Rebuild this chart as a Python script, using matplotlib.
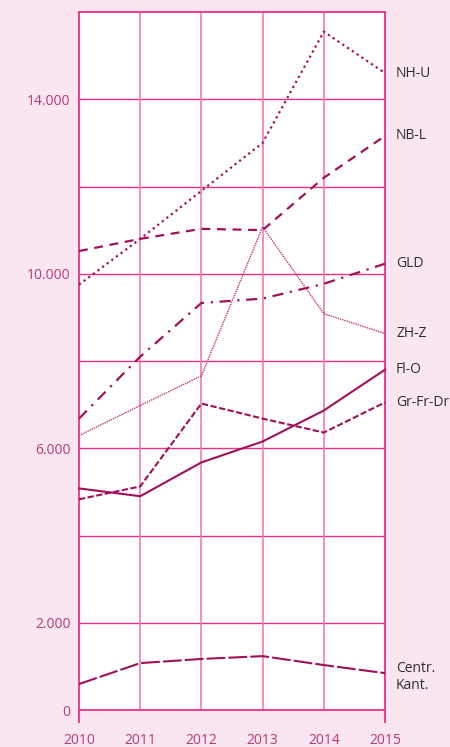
import matplotlib
matplotlib.use("Agg")
import matplotlib.pyplot as plt
from matplotlib.ticker import FuncFormatter

years = [2010, 2011, 2012, 2013, 2014, 2015]
series_names = ["NH-U", "NB-L", "GLD", "ZH-Z", "Fl-O", "Gr-Fr-Dr", "Centr.\nKant."]
nh_u = [9750, 10800, 11900, 13000, 15550, 14600]
nb_l = [10520, 10800, 11030, 11000, 12200, 13160]
gld = [6680, 8100, 9330, 9430, 9770, 10230]
zh_z = [6290, 6980, 7660, 11075, 9085, 8630]
fl_o = [5080, 4900, 5675, 6155, 6865, 7800]
gr_fr_dr = [4830, 5125, 7025, 6680, 6360, 7050]
centr_kant = [595, 1075, 1170, 1235, 1030, 845]
y_labels = [0, 2000, 6000, 10000, 14000]

BG = "#fae6f0"
GRID = "#ec2f87"
GRID_LIGHT = "#f27cb2"
LINE = "#a0105a"
LINE_LIGHT = "#c4307c"
TICK = "#b53a78"
TXT = "#2e2e2e"

plt.rcParams['font.family'] = ['Open Sans', 'DejaVu Sans']

fig = plt.figure(figsize=(4.5, 7.47), dpi=100, facecolor=BG)
ax = fig.add_axes([79/450, 1-710/747, (385-79)/450, (710-12)/747])
ax.set_facecolor("white")

ax.set_xlim(2010, 2015)
ax.set_ylim(0, 16000)

# grid
for v in range(2000, 16000, 2000):
    ax.axhline(v, color=GRID, lw=1.0, zorder=1)
for yr in years[1:-1]:
    ax.axvline(yr, color=GRID_LIGHT, lw=1.2, zorder=1)

for s in ax.spines.values():
    s.set_color(GRID)
    s.set_linewidth(1.3)

styles = [
    (nh_u, (0, (1, 1.6)), 1.6, LINE),
    (nb_l, (0, (4, 3)), 1.6, LINE),
    (gld, (0, (5, 3, 1, 3)), 1.6, LINE),
    (zh_z, (0, (1, 0.7)), 1.0, LINE_LIGHT),
    (fl_o, '-', 1.5, LINE),
    (gr_fr_dr, (0, (3, 1.2)), 1.5, LINE),
    (centr_kant, (0, (9, 1.5)), 1.5, LINE),
]
for vals, ls, lw, col in styles:
    ax.plot(years, vals, linestyle=ls, lw=lw, color=col, zorder=3, clip_on=False)

# right labels
label_dy = [0, 0, 0, 0, 0, 0, -3]
for name, vals, dy in zip(series_names, [nh_u, nb_l, gld, zh_z, fl_o, gr_fr_dr, centr_kant], label_dy):
    ax.annotate(name, xy=(years[-1], vals[-1]), xytext=(8, dy), textcoords="offset points",
                ha="left", va="center", fontsize=10, color=TXT,
                annotation_clip=False, linespacing=1.2)

ax.set_yticks(y_labels)
ax.yaxis.set_major_formatter(FuncFormatter(lambda v, p: f"{int(v):,}".replace(",", ".")))
ax.tick_params(axis="y", length=0, pad=6, labelsize=10, labelcolor=TICK)
ax.set_xticks(years)
ax.tick_params(axis="x", length=9, width=1.3, color=GRID, pad=7.5, labelsize=10, labelcolor=TICK)
for i, t in enumerate(ax.xaxis.get_major_ticks()):
    if 0 < i < len(years) - 1:
        t.tick1line.set_visible(False)

fig.savefig("out.png", dpi=100, facecolor=BG)
